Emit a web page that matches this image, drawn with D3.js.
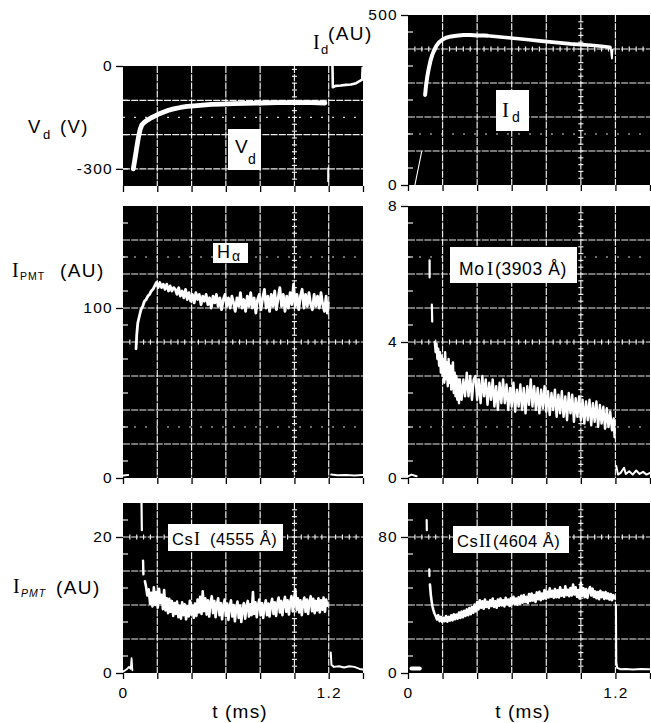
<!DOCTYPE html>
<html>
<head>
<meta charset="utf-8">
<script src="https://cdn.jsdelivr.net/npm/d3@7"></script>
<style>
body { margin: 0; background: #fff; }
svg { display: block; }
</style>
</head>
<body>
<svg id="fig" width="651" height="723"></svg>
<script>
const sans = "'Liberation Sans', Arial, Helvetica, sans-serif";
const serif = "'Liberation Serif', 'Times New Roman', serif";

// time axis (ms)
const timeTicks = [0, 0.2, 0.4, 0.6, 0.8, 1.0, 1.2, 1.4];
const timeLabels = ["0", "", "", "", "", "", "1.2", ""];
const timeGrid = [0.2, 0.4, 0.6, 0.8, 1.0, 1.2];

// y ticks for each panel
const vdTicks = [0, -300], vdGrid = [-300, -200, -100];
const idTicks = [0, 500], idGrid = [100, 200, 300, 400];
const haTicks = [0, 100], haGrid = [20, 40, 60, 80, 100, 120, 140];
const moTicks = [0, 4, 8], moGrid = [1, 2, 3, 4, 5, 6, 7];
const csiTicks = [0, 20], csiGrid = [5, 10, 15, 20];
const cs2Ticks = [0, 80], cs2Grid = [20, 40, 60, 80];

// V_d (V)
const vdMain = [[0.06,-300],[0.07,-270],[0.08,-238],[0.09,-208],[0.10,-185],[0.11,-172],[0.125,-164],[0.145,-157],
  [0.165,-151],[0.185,-146],[0.205,-141],[0.235,-135],[0.265,-129],[0.295,-125],[0.335,-121],[0.375,-118],
  [0.415,-116],[0.465,-114],[0.515,-112],[0.575,-111],[0.645,-110],[0.715,-109],[0.80,-108],[0.90,-107],
  [1.00,-107],[1.10,-107],[1.178,-108]];
const vdAfter = [[1.222,-2],[1.224,-62],[1.24,-58],[1.27,-57],[1.30,-55],[1.33,-54],[1.36,-50],[1.38,-44],[1.395,-40],[1.398,-5]];
const vdStub = [[1.197,-298],[1.197,-336]];

// I_d (AU)
const idFaint = [[0.04,0],[0.079,98]];
const idMainA = [[0.099,265],[0.105,295],[0.112,320],[0.12,342],[0.13,365],[0.14,382],[0.15,395],[0.165,410],
  [0.18,420],[0.20,428],[0.22,433],[0.25,437],[0.28,439],[0.32,441],[0.36,441],[0.40,440],[0.44,440],[0.462,439]];
const idMainB = [[0.475,438],[0.52,436],[0.58,433],[0.64,430],[0.70,427],[0.76,424],[0.82,421],[0.88,418],
  [0.94,415],[1.00,413],[1.06,411],[1.12,408],[1.168,405]];
const idSpike = [[1.172,404],[1.18,372],[1.183,398]];

// H alpha
const haPre = [[0.0,1.5],[0.03,1.8]];
const haMain = [[0.076,76],[0.080,84],[0.086,91],[0.095,95],[0.105,99],[0.115,101],[0.125,104],[0.135,105],
  [0.145,107],[0.155,108],[0.165,110],[0.175,111],[0.185,113],[0.195,115],[0.205,112],[0.215,115],[0.225,112],
  [0.235,114],[0.245,111],[0.255,114],[0.265,110],[0.275,113],[0.285,110],[0.295,112],[0.305,111],[0.315,108],
  [0.325,112],[0.335,107],[0.345,110],[0.355,106],[0.365,111],[0.375,105],[0.385,109],[0.395,104],[0.405,108],
  [0.415,103],[0.425,109],[0.435,105],[0.445,108],[0.455,102],[0.465,107],[0.475,104],[0.485,108],[0.495,102],
  [0.505,106],[0.515,100],[0.525,107],[0.535,103],[0.545,108],[0.555,101],[0.565,106],[0.575,99],[0.585,105],
  [0.595,108],[0.605,101],[0.615,106],[0.625,100],[0.635,107],[0.645,103],[0.655,98],[0.665,106],[0.675,101],
  [0.685,109],[0.695,100],[0.705,105],[0.715,98],[0.725,107],[0.735,101],[0.745,109],[0.755,100],[0.765,106],
  [0.775,97],[0.785,105],[0.795,108],[0.805,99],[0.815,106],[0.825,111],[0.835,100],[0.845,107],[0.855,98],
  [0.865,108],[0.875,101],[0.885,110],[0.895,99],[0.905,106],[0.915,112],[0.925,101],[0.935,108],[0.945,98],
  [0.955,107],[0.965,100],[0.975,109],[0.985,102],[0.995,114],[1.005,101],[1.015,108],[1.025,99],[1.035,107],
  [1.045,111],[1.055,100],[1.065,108],[1.075,101],[1.085,109],[1.095,102],[1.105,99],[1.115,108],[1.125,101],
  [1.135,107],[1.145,100],[1.155,109],[1.165,102],[1.175,98],[1.185,107],[1.192,97],[1.198,103]];
const haAfter = [[1.215,2],[1.25,1.6],[1.30,1.8],[1.35,1.5],[1.40,1.7]];

// Mo I (3903 A)
const moPre = [[0.0,0.05],[0.02,0.1],[0.05,0.05]];
const moSpikeA = [[0.125,5.9],[0.125,6.4]];
const moSpikeB = [[0.138,5.1],[0.14,4.6]];
const moMain = [[0.155,4.0],[0.16,3.7],[0.165,3.95],[0.17,3.5],[0.175,3.8],[0.18,3.3],[0.185,3.7],[0.19,3.1],
  [0.195,3.6],[0.20,3.0],[0.205,3.5],[0.21,2.8],[0.215,3.7],[0.22,2.9],[0.225,3.4],[0.23,2.7],[0.235,3.5],
  [0.24,2.8],[0.245,3.3],[0.25,2.6],[0.255,3.2],[0.26,3.4],[0.265,2.5],[0.27,3.1],[0.275,2.4],[0.28,3.0],
  [0.285,2.3],[0.29,2.9],[0.295,2.2],[0.30,2.9],[0.31,2.3],[0.32,2.9],[0.33,2.4],[0.34,3.1],[0.35,2.4],
  [0.36,3.0],[0.37,2.3],[0.38,2.9],[0.39,3.0],[0.40,2.3],[0.41,2.9],[0.42,2.2],[0.43,3.0],[0.44,2.4],[0.45,2.9],
  [0.46,2.15],[0.47,2.8],[0.48,2.3],[0.49,2.9],[0.50,2.1],[0.51,2.7],[0.52,2.0],[0.53,2.8],[0.54,2.2],
  [0.55,2.9],[0.56,2.2],[0.57,2.75],[0.58,2.0],[0.59,2.65],[0.60,2.1],[0.61,2.8],[0.62,1.95],[0.63,2.6],
  [0.64,2.1],[0.65,2.75],[0.66,2.0],[0.67,2.65],[0.68,1.9],[0.69,2.7],[0.70,2.15],[0.71,2.9],[0.72,2.1],
  [0.73,2.7],[0.74,2.0],[0.75,2.65],[0.76,1.9],[0.77,2.6],[0.78,2.05],[0.79,2.7],[0.80,1.95],[0.81,2.55],
  [0.82,1.85],[0.83,2.5],[0.84,2.0],[0.85,2.6],[0.86,1.8],[0.87,2.45],[0.88,1.9],[0.89,2.55],[0.90,1.8],
  [0.91,2.4],[0.92,1.7],[0.93,2.5],[0.94,1.9],[0.95,2.45],[0.96,1.65],[0.97,2.35],[0.98,1.8],[0.99,2.4],
  [1.00,1.7],[1.01,2.3],[1.02,1.6],[1.03,2.25],[1.04,1.7],[1.05,2.3],[1.06,1.55],[1.07,2.2],[1.08,1.65],
  [1.09,2.25],[1.10,1.5],[1.11,2.15],[1.12,1.6],[1.13,2.1],[1.14,1.45],[1.15,2.05],[1.16,1.5],[1.17,1.95],
  [1.18,1.4],[1.19,1.75],[1.195,1.2]];
const moAfter = [[1.205,0.35],[1.215,0.1],[1.23,0.15],[1.25,0.3],[1.26,0.12],[1.28,0.2],[1.30,0.1],[1.32,0.22],
  [1.34,0.12],[1.36,0.18],[1.38,0.1],[1.40,0.15]];

// Cs I (4555 A)
const csiPre = [[0.0,0.2],[0.02,0.5],[0.035,0.9],[0.045,0.6],[0.05,2.2],[0.055,0.4]];
const csiSpikeA = [[0.108,25],[0.11,21]];
const csiSpikeB = [[0.117,16.5],[0.119,14.5]];
const csiMain = [[0.128,13.5],[0.135,12.6],[0.142,11.4],[0.15,12.3],[0.158,10.2],[0.165,11.8],[0.172,9.8],
  [0.18,12.6],[0.188,10.0],[0.195,11.9],[0.203,9.6],[0.21,12.4],[0.218,10.3],[0.225,11.5],[0.233,9.4],
  [0.24,12.2],[0.248,9.2],[0.255,11.0],[0.263,8.8],[0.27,10.9],[0.278,9.0],[0.285,10.6],[0.293,8.4],[0.30,10.3],
  [0.308,8.7],[0.315,10.5],[0.323,8.2],[0.33,9.9],[0.338,8.0],[0.345,10.4],[0.353,8.5],[0.36,10.1],[0.368,7.9],
  [0.375,9.8],[0.383,8.3],[0.39,10.6],[0.398,8.6],[0.405,9.9],[0.413,8.1],[0.42,10.2],[0.428,8.4],[0.435,10.8],
  [0.443,8.9],[0.45,11.2],[0.458,8.7],[0.465,12.0],[0.473,9.1],[0.48,11.0],[0.488,8.6],[0.495,10.7],[0.503,8.3],
  [0.51,10.4],[0.518,11.3],[0.525,8.8],[0.533,10.6],[0.54,8.2],[0.548,10.1],[0.555,11.0],[0.563,8.5],[0.57,10.3],
  [0.578,7.9],[0.585,9.9],[0.593,10.8],[0.60,8.4],[0.608,10.2],[0.615,7.8],[0.623,9.8],[0.63,10.7],[0.638,8.3],
  [0.645,10.0],[0.653,7.6],[0.66,9.6],[0.668,10.5],[0.675,8.1],[0.683,9.9],[0.69,7.5],[0.698,9.4],[0.705,10.3],
  [0.713,8.0],[0.72,9.8],[0.728,10.6],[0.735,8.3],[0.743,10.1],[0.75,8.5],[0.758,11.9],[0.765,8.7],[0.773,10.4],
  [0.78,8.2],[0.788,10.0],[0.795,10.8],[0.803,8.5],[0.81,10.3],[0.818,8.1],[0.825,9.9],[0.833,10.7],[0.84,8.5],
  [0.848,10.2],[0.855,8.3],[0.863,10.1],[0.87,10.9],[0.878,8.7],[0.885,10.4],[0.893,8.4],[0.90,10.2],[0.908,11.1],
  [0.915,8.9],[0.923,10.6],[0.93,8.5],[0.938,10.3],[0.945,11.2],[0.953,9.0],[0.96,10.7],[0.968,8.6],[0.975,10.4],
  [0.983,11.3],[0.99,9.1],[0.998,10.8],[1.005,12.3],[1.013,9.3],[1.02,11.0],[1.028,8.9],[1.035,10.7],
  [1.043,8.5],[1.05,10.4],[1.058,11.1],[1.065,9.0],[1.073,10.8],[1.08,8.7],[1.088,10.5],[1.095,11.3],
  [1.103,9.1],[1.11,10.9],[1.118,8.8],[1.125,10.6],[1.133,9.2],[1.14,11.0],[1.148,8.9],[1.155,10.7],
  [1.163,9.3],[1.17,11.1],[1.178,9.0],[1.185,10.8],[1.192,9.9]];
const csiAfter = [[1.212,3.0],[1.216,1.2],[1.23,0.9],[1.26,1.0],[1.29,0.8],[1.32,1.0],[1.35,0.9],[1.38,0.6],[1.40,0.5]];

// Cs II (4604 A)
const cs2Pre = [[0.02,2.6],[0.068,2.6]];
const cs2SpikeA = [[0.108,90],[0.109,84]];
const cs2SpikeB = [[0.123,61],[0.124,57]];
const cs2Main = [[0.127,52],[0.132,46],[0.137,42],[0.142,39],[0.147,37],[0.153,35],[0.16,33.5],[0.168,31.5],
  [0.175,34],[0.183,30.5],[0.19,33],[0.198,30],[0.205,32.5],[0.213,30.5],[0.22,33.5],[0.228,30.2],[0.235,33],
  [0.243,30.8],[0.25,34],[0.258,31],[0.265,34.5],[0.273,31.6],[0.28,34.4],[0.288,32],[0.295,35.6],[0.303,32.4],
  [0.31,36.2],[0.318,32.8],[0.325,36.6],[0.333,33.6],[0.34,37.4],[0.348,34],[0.355,38.2],[0.363,34.6],[0.37,38.8],
  [0.378,35.4],[0.385,40.2],[0.393,36.2],[0.40,41.8],[0.408,37.4],[0.415,42.8],[0.423,38.4],[0.43,42.2],[0.438,37.8],
  [0.445,43.2],[0.453,38.8],[0.46,41.8],[0.468,38.2],[0.475,42.8],[0.483,39.4],[0.49,43.8],[0.498,38.8],[0.505,42.2],
  [0.513,38.4],[0.52,43.2],[0.528,39.6],[0.535,43.8],[0.543,39.8],[0.55,42.8],[0.558,39.2],[0.565,44.2],[0.573,40.4],
  [0.58,43.2],[0.588,39.4],[0.595,44],[0.603,40.8],[0.61,44.8],[0.618,40.4],[0.625,43.8],[0.633,40.2],[0.64,44.6],
  [0.648,40.8],[0.655,45.4],[0.663,41.4],[0.67,45.8],[0.678,41.8],[0.685,44.8],[0.693,41.2],[0.70,46.4],[0.708,42.4],
  [0.715,46.8],[0.723,42.6],[0.73,45.8],[0.738,41.8],[0.745,47.4],[0.753,43.4],[0.76,47.8],[0.768,42.8],[0.775,46.8],
  [0.783,43.6],[0.79,48.8],[0.798,43.8],[0.805,47.8],[0.813,44.4],[0.82,49.8],[0.828,44.8],[0.835,48.4],[0.843,44.2],
  [0.85,49.4],[0.858,44.6],[0.865,48.6],[0.873,44.4],[0.88,50.4],[0.888,45.4],[0.895,48.8],[0.903,44.8],[0.91,51],
  [0.918,45.8],[0.925,49],[0.933,45.2],[0.94,50],[0.948,45.6],[0.955,52],[0.963,46.2],[0.97,50.4],[0.978,44.8],
  [0.985,48.8],[0.993,43.8],[1.00,53],[1.008,45.4],[1.015,49.8],[1.023,44.6],[1.03,49.4],[1.038,44.2],[1.045,48.4],
  [1.053,50.6],[1.06,45.6],[1.068,49.6],[1.075,44.8],[1.083,48],[1.09,44],[1.098,47.6],[1.105,43.4],
  [1.113,48.4],[1.12,44.6],[1.128,47.4],[1.135,43.6],[1.143,47.6],[1.15,43.8],[1.158,46.8],[1.165,43.2],
  [1.173,46.4],[1.18,42.8],[1.188,45.8],[1.195,44]];
const cs2After = [[1.203,40],[1.205,6.5],[1.21,3],[1.23,2.2],[1.26,2.4],[1.30,2.1],[1.35,2.3],[1.40,2.2]];

const panels = [
  { key: "vd", xr: [123, 363], yr: [186, 66], dom: [-350, 0], step: 100, grid: vdGrid, ticks: vdTicks,
    dots: [-150], cross: null, bottom: false,
    traces: [[vdMain, 4.8], [vdAfter, 2.6], [vdStub, 2]] },
  { key: "id", xr: [408, 650], yr: [185, 15], dom: [0, 500], step: 100, grid: idGrid, ticks: idTicks,
    dots: [150], cross: 400, bottom: false,
    traces: [[idFaint, 1.1], [idMainA, 4], [idMainB, 3.6], [idSpike, 1.8]] },
  { key: "ha", xr: [123, 363], yr: [478, 206], dom: [0, 160], step: 20, grid: haGrid, ticks: haTicks,
    dots: [130, 30], cross: 80, bottom: false,
    traces: [[haPre, 2], [haMain, 2.8], [haAfter, 2]] },
  { key: "mo", xr: [408, 650], yr: [478, 206], dom: [0, 8], step: 1, grid: moGrid, ticks: moTicks,
    dots: [6.5, 1.5], cross: 4, bottom: false,
    traces: [[moPre, 2], [moSpikeA, 2.2], [moSpikeB, 2.2], [moMain, 2.4], [moAfter, 2]] },
  { key: "csi", xr: [123, 363], yr: [673, 503], dom: [0, 25], step: 5, grid: csiGrid, ticks: csiTicks,
    dots: [], cross: 20, bottom: true,
    traces: [[csiPre, 1.8], [csiSpikeA, 2.2], [csiSpikeB, 2.4], [csiMain, 2.6], [csiAfter, 2]] },
  { key: "cs2", xr: [408, 650], yr: [673, 503], dom: [0, 100], step: 20, grid: cs2Grid, ticks: cs2Ticks,
    dots: [], cross: 80, bottom: true,
    traces: [[cs2Pre, 4], [cs2SpikeA, 2.2], [cs2SpikeB, 2.2], [cs2Main, 2.6], [cs2After, 2]] }
];

const svg = d3.select("#fig");
const defs = svg.append("defs");
const gridColor = "#ececec";
const tickText = d => String(d);   // plain hyphen for negatives, as on the figure

panels.forEach(p => {
  const x = d3.scaleLinear().domain([0, 1.4]).range(p.xr);
  const y = d3.scaleLinear().domain(p.dom).range(p.yr);
  const g = svg.append("g").attr("class", "panel-" + p.key);
  const w = p.xr[1] - p.xr[0], h = p.yr[0] - p.yr[1];

  defs.append("clipPath").attr("id", "clip-" + p.key)
    .append("rect").attr("x", p.xr[0]).attr("y", p.yr[1]).attr("width", w).attr("height", h);

  g.append("rect").attr("x", p.xr[0]).attr("y", p.yr[1]).attr("width", w).attr("height", h)
    .attr("fill", "#000");

  const inner = g.append("g").attr("clip-path", "url(#clip-" + p.key + ")");

  // graticule
  inner.selectAll("line.vg").data(timeGrid).enter().append("line")
    .attr("x1", d => x(d)).attr("x2", d => x(d)).attr("y1", p.yr[1]).attr("y2", p.yr[0])
    .attr("stroke", gridColor).attr("stroke-width", 1.2).attr("stroke-dasharray", "7,1.2");
  inner.selectAll("line.hg").data(p.grid).enter().append("line")
    .attr("x1", p.xr[0]).attr("x2", p.xr[1]).attr("y1", d => y(d)).attr("y2", d => y(d))
    .attr("stroke", gridColor).attr("stroke-width", 1.2).attr("stroke-dasharray", "7,1.2");
  inner.selectAll("line.dg").data(p.dots).enter().append("line")
    .attr("x1", p.xr[0]).attr("x2", p.xr[1]).attr("y1", d => y(d)).attr("y2", d => y(d))
    .attr("stroke", "#d8d8d8").attr("stroke-width", 1.2).attr("stroke-dasharray", "2,9");

  // scope centre lines with small cross ticks
  const sub = d3.range(0.04, 1.4, 0.04);
  if (p.cross !== null) {
    inner.selectAll("line.cx").data(sub).enter().append("line")
      .attr("x1", d => x(d)).attr("x2", d => x(d))
      .attr("y1", y(p.cross) - 2.5).attr("y2", y(p.cross) + 2.5)
      .attr("stroke", gridColor).attr("stroke-width", 1.2);
  }
  const vsub = d3.range(p.dom[0] + p.step / 5, p.dom[1], p.step / 5);
  inner.selectAll("line.cy").data(vsub).enter().append("line")
    .attr("x1", x(1.0) - 2.5).attr("x2", x(1.0) + 2.5)
    .attr("y1", d => y(d)).attr("y2", d => y(d))
    .attr("stroke", gridColor).attr("stroke-width", 1.2);

  // minor marks along the left edge
  const half = d3.range(p.dom[0] + p.step / 2, p.dom[1], p.step);
  inner.selectAll("line.mk").data(half).enter().append("line")
    .attr("x1", p.xr[0]).attr("x2", p.xr[0] + 5)
    .attr("y1", d => y(d)).attr("y2", d => y(d))
    .attr("stroke", gridColor).attr("stroke-width", 1.2);

  // traces
  const line = d3.line().x(d => x(d[0])).y(d => y(d[1]));
  p.traces.forEach(([data, sw]) => {
    inner.append("path").datum(data).attr("d", line)
      .attr("fill", "none").attr("stroke", "#fff").attr("stroke-width", sw)
      .attr("stroke-linejoin", "round").attr("stroke-linecap", "round");
  });

  // axes
  const ya = d3.axisLeft(y).tickValues(p.ticks).tickSize(7).tickPadding(3).tickFormat(tickText);
  const yg = g.append("g").attr("transform", `translate(${p.xr[0]},0)`).call(ya);
  yg.select(".domain").remove();
  yg.selectAll("text").attr("font-family", sans).attr("font-size", 15.5).attr("letter-spacing", 1.3)
    .attr("fill", "#000");
  yg.selectAll("line").attr("stroke", "#000").attr("stroke-width", 1.3);

  const xa = d3.axisBottom(x).tickValues(timeTicks).tickSize(6).tickPadding(8)
    .tickFormat((d, i) => p.bottom ? timeLabels[i] : "");
  const xg = g.append("g").attr("transform", `translate(0,${p.yr[0]})`).call(xa);
  xg.select(".domain").remove();
  xg.selectAll("text").attr("font-family", sans).attr("font-size", 15.5).attr("letter-spacing", 1.3)
    .attr("fill", "#000");
  xg.selectAll("line").attr("stroke", "#000").attr("stroke-width", 1.3);
});

// white label boxes inside panels
function box(x, y, w, h) {
  svg.append("rect").attr("x", x).attr("y", y).attr("width", w).attr("height", h).attr("fill", "#fff");
}
function label(x, y, parts) {
  const t = svg.append("text").attr("x", x).attr("y", y).attr("fill", "#000");
  parts.forEach(pt => {
    const s = t.append("tspan").text(pt.t)
      .attr("font-family", pt.f || sans).attr("font-size", pt.s || 18)
      .attr("letter-spacing", pt.ls === undefined ? 1.4 : pt.ls);
    if (pt.x !== undefined) s.attr("x", pt.x);
    if (pt.y !== undefined) s.attr("y", pt.y);
    if (pt.fs) s.attr("font-style", pt.fs);
  });
}

box(228, 129, 33, 41);
label(235, 153, [{ t: "V", s: 19 }, { t: "d", s: 14, x: 248, y: 164 }]);
box(496, 90, 33, 41);
label(502, 117, [{ t: "I", f: serif, s: 21 }, { t: "d", s: 14, x: 512, y: 122 }]);
box(213, 243, 35, 20);
label(217, 258, [{ t: "H", s: 18 }, { t: "α", s: 14, x: 232, y: 261 }]);
box(450, 247, 127, 36);
label(459, 275, [{ t: "Mo", s: 17.5, ls: 0.6 }, { t: "I", f: serif, s: 18.5, ls: 0, x: 487 }, { t: "(3903 Å)", s: 17.5, ls: 0.6, x: 495 }]);
box(168, 524, 115, 27);
label(172, 545, [{ t: "Cs", s: 16.5, ls: 0.5 }, { t: "I", f: serif, s: 18, ls: 0, x: 194 }, { t: "(4555 Å)", s: 16.5, ls: 0.5, x: 210 }]);
box(453, 526, 116, 27);
label(457, 547, [{ t: "Cs", s: 16.5, ls: 0.5 }, { t: "II", f: serif, s: 18, ls: 0, x: 479 }, { t: "(4604 Å)", s: 16.5, ls: 0.5, x: 493 }]);

// axis titles
label(28, 133, [{ t: "V", s: 18.5 }, { t: "d", s: 13, x: 43, y: 139 }, { t: "(V)", s: 18.5, x: 60, y: 133 }]);
label(313, 49, [{ t: "I", f: serif, s: 20 }, { t: "d", s: 13, x: 321, y: 54 }, { t: "(AU)", s: 19, x: 328, y: 40 }]);
label(12, 277, [{ t: "I", f: serif, s: 20 }, { t: "PMT", s: 10.5, ls: 1, x: 20, y: 280 }, { t: "(AU)", s: 19, x: 60, y: 277 }]);
label(13, 593, [{ t: "I", f: serif, s: 20 }, { t: "PMT", s: 10.5, ls: 1, fs: "italic", x: 21, y: 597 }, { t: "(AU)", s: 19, x: 56, y: 594 }]);

svg.append("text").attr("x", 240).attr("y", 718).attr("text-anchor", "middle")
  .attr("font-family", sans).attr("font-size", 19).attr("letter-spacing", 1.2).text("t (ms)");
svg.append("text").attr("x", 523).attr("y", 718).attr("text-anchor", "middle")
  .attr("font-family", sans).attr("font-size", 19).attr("letter-spacing", 1.2).text("t (ms)");
</script>
</body>
</html>
